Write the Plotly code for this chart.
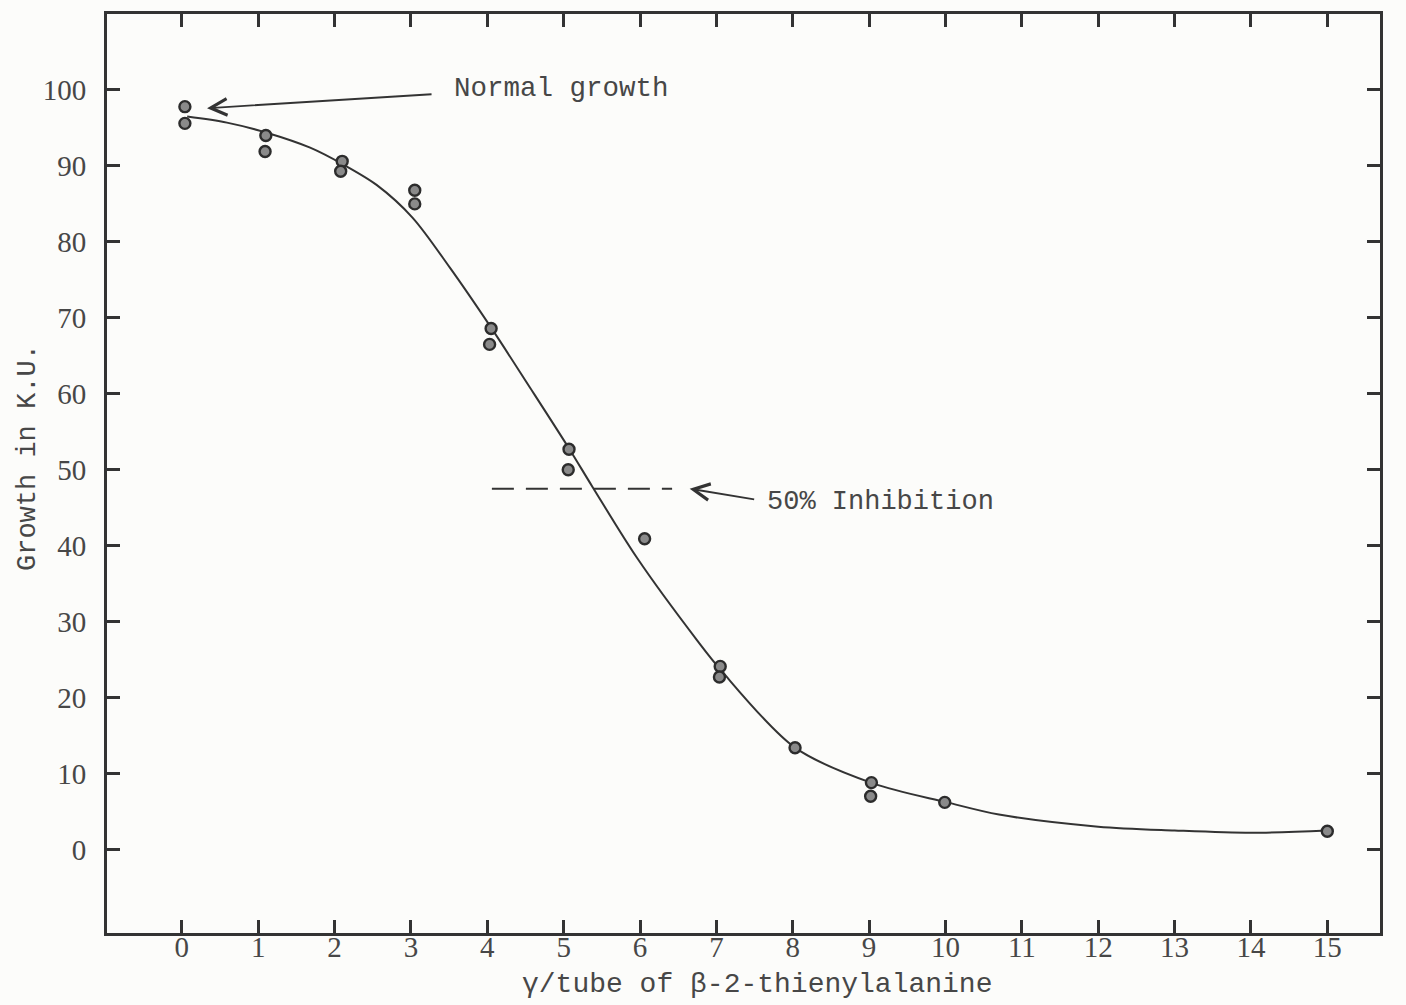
import plotly.graph_objects as go

# Measured growth (K.U.) at each dose of beta-2-thienylalanine (gamma per tube)
dose = [0.04, 0.04, 1.1, 1.09, 2.1, 2.08, 3.05, 3.05, 4.05, 4.03,
        5.07, 5.06, 6.06, 7.05, 7.04, 8.03, 9.03, 9.02, 9.99, 15.0]
growth = [97.8, 95.6, 94.0, 91.9, 90.6, 89.3, 86.8, 85.0, 68.6, 66.5,
          52.7, 50.0, 40.9, 24.1, 22.7, 13.4, 8.8, 7.0, 6.2, 2.4]

# Hand-fitted inhibition curve
curve_dose = [0.07, 0.59, 1.1, 1.68, 2.11, 2.55, 3.02, 3.51, 4.05, 4.56,
              5.07, 5.38, 5.96, 6.75, 7.06, 8.03, 9.05, 10.02, 10.7,
              12.0, 13.0, 14.0, 15.0]
curve_growth = [96.5, 95.7, 94.4, 92.4, 90.2, 87.5, 83.2, 76.6, 68.7, 60.8,
                52.8, 47.7, 38.4, 27.5, 23.6, 13.4, 8.7, 6.2, 4.6,
                3.0, 2.5, 2.2, 2.5]

# 50 % inhibition level
half_dose = [4.06, 6.42]
half_growth = [47.5, 47.5]

x_ticks = list(range(0, 16))
y_ticks = list(range(0, 101, 10))

INK = "#333333"
TEXT = "#474747"
MONO = "Liberation Mono, Courier New, monospace"
SERIF = "Liberation Serif, Times New Roman, serif"

fig = go.Figure()

fig.add_trace(go.Scatter(
    x=curve_dose, y=curve_growth, mode="lines",
    line=dict(color=INK, width=2, shape="spline", smoothing=0.9),
    hoverinfo="skip", showlegend=False,
))

fig.add_trace(go.Scatter(
    x=half_dose, y=half_growth, mode="lines",
    line=dict(color=INK, width=2, dash="22px,12px"),
    hoverinfo="skip", showlegend=False,
))

fig.add_trace(go.Scatter(
    x=dose, y=growth, mode="markers",
    marker=dict(size=11, color="#8a8a8a", line=dict(color="#2c2c2c", width=2.4)),
    showlegend=False,
))

axis_common = dict(
    showline=True, linecolor=INK, linewidth=3, mirror="ticks",
    ticks="inside", ticklen=13, tickwidth=2.5, tickcolor=INK,
    showgrid=False, zeroline=False,
    tickfont=dict(family=SERIF, size=29, color=TEXT),
)

fig.update_xaxes(
    range=[-0.98, 15.69], tickmode="array", tickvals=x_ticks,
    ticktext=[str(v) for v in x_ticks], ticklabelstandoff=-14,
    **axis_common,
)
fig.update_yaxes(
    range=[-11, 110], tickmode="array", tickvals=y_ticks,
    ticktext=[str(v) for v in y_ticks], ticklabelstandoff=12,
    **axis_common,
)

annotations = [
    # Normal growth label with arrow pointing at the zero-dose points
    dict(x=0.33, y=97.6, xref="x", yref="y", text="",
         showarrow=True, arrowhead=5, arrowsize=1.8, arrowwidth=1.8,
         arrowcolor=INK, ax=226, ay=-14),
    dict(x=452, y=88, xref="paper", yref="paper", text="Normal growth",
         showarrow=False, font=dict(family=MONO, size=27.5, color=TEXT),
         xanchor="left", yanchor="middle"),
    # 50 % inhibition label with arrow pointing at the dashed level
    dict(x=6.65, y=47.5, xref="x", yref="y", text="",
         showarrow=True, arrowhead=5, arrowsize=1.8, arrowwidth=1.8,
         arrowcolor=INK, ax=66, ay=11),
    dict(x=765, y=502, xref="paper", yref="paper", text="50% Inhibition",
         showarrow=False, font=dict(family=MONO, size=27, color=TEXT),
         xanchor="left", yanchor="middle"),
    # Axis titles
    dict(x=757, y=984, xref="paper", yref="paper",
         text="γ/tube of β-2-thienylalanine",
         showarrow=False, font=dict(family=MONO, size=28, color=TEXT),
         xanchor="center", yanchor="middle"),
    dict(x=28, y=458, xref="paper", yref="paper", text="Growth in K.U.",
         textangle=-90, showarrow=False,
         font=dict(family=MONO, size=27, color=TEXT),
         xanchor="center", yanchor="middle"),
]

# Convert pixel placements of the free-standing labels to paper coordinates
L, R, T, B = 107, 26, 14, 72
W, H = 1406, 1005
pw, ph = W - L - R, H - T - B
for a in annotations:
    if a["xref"] == "paper":
        a["x"] = (a["x"] - L) / pw
        a["y"] = (H - B - a["y"]) / ph

fig.update_layout(
    width=W, height=H,
    margin=dict(l=L, r=R, t=T, b=B),
    paper_bgcolor="#fcfcfa", plot_bgcolor="#fcfcfa",
    annotations=annotations,
    showlegend=False,
)

fig.write_html("out.html")
